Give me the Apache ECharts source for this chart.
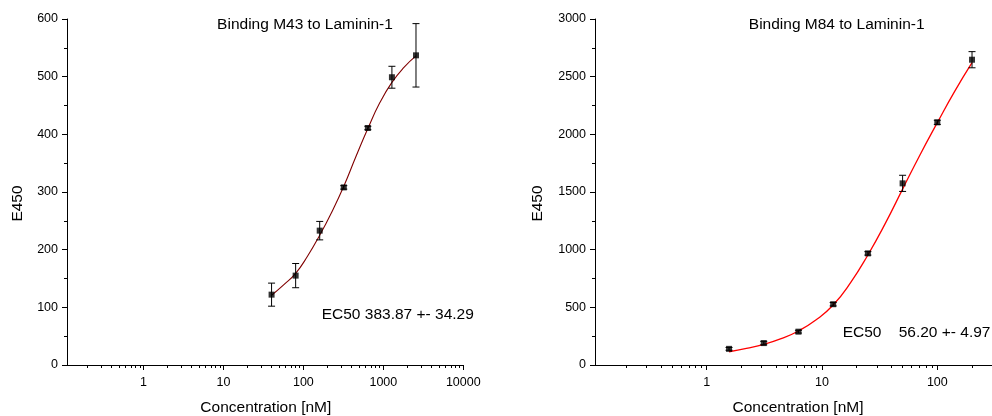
<!DOCTYPE html>
<html><head><meta charset="utf-8">
<script src="https://cdn.jsdelivr.net/npm/echarts@6/dist/echarts.min.js"></script>
<style>html,body{margin:0;padding:0;background:#fff}#c{width:992px;height:416px}</style>
</head><body><div id="c"></div>
<script>
// ---- data: M43 binding to Laminin-1 ----
const m43Conc = [40, 80, 160, 320, 640, 1280, 2560];
const m43Mean = [122, 155, 233, 308, 411, 499, 537];
const m43Err  = [20, 21, 16, 3, 3, 19, 55];
const m43FitConc = [40, 56.6, 80, 113, 160, 226, 320, 453, 640, 905, 1280, 1810, 2560];
const m43FitVal  = [121, 139, 159, 189, 225, 265, 310, 361, 410, 455, 490, 516, 536];

// ---- data: M84 binding to Laminin-1 ----
const m84Conc = [1.5625, 3.125, 6.25, 12.5, 25, 50, 100, 200];
const m84Mean = [140, 190, 289, 527, 968, 1575, 2104, 2647];
const m84Err  = [12, 15, 12, 15, 15, 70, 18, 70];
const m84FitConc = [1.5625, 2.21, 3.125, 4.42, 6.25, 8.84, 12.5, 17.7, 25, 35.4, 50, 70.7, 100, 141, 200];
const m84FitVal  = [115, 145, 179, 228, 295, 390, 520, 714, 954, 1228, 1525, 1821, 2101, 2370, 2621];

// ---- tick labels / texts ----
const leftXLabels = [1, 10, 100, 1000, 10000];
const rightXLabels = [1, 10, 100];
const titles = ['Binding M43 to Laminin-1', 'Binding M84 to Laminin-1'];
const ec50Texts = ['EC50 383.87 +- 34.29', 'EC50    56.20 +- 4.97'];
const yName = 'E450';
const xName = 'Concentration [nM]';

const FONT = '"Liberation Sans", Arial, sans-serif';

function minorTicks(lo, hi) {
  const out = [];
  for (let e = -1; e <= 4; e++) {
    for (let m = 2; m <= 9; m++) {
      const v = m * Math.pow(10, e);
      if (v > lo && v < hi) out.push(+v.toPrecision(6));
    }
  }
  return out;
}

function pairs(xs, ys) { return xs.map((x, i) => [x, ys[i]]); }
function triples(xs, ys, es) { return xs.map((x, i) => [x, ys[i], es[i]]); }

const xMinL = 0.1105, xMaxL = 10000;
const xMinR = 0.1075, xMaxR = 298;

function mainX(grid, min, max, labels) {
  return {
    type: 'log', gridIndex: grid, min: min, max: max, position: 'bottom',
    axisLine: { show: true, onZero: false, lineStyle: { color: '#000', width: 1 } },
    axisTick: { show: true, customValues: labels, length: 5, lineStyle: { color: '#000', width: 1 } },
    axisLabel: {
      customValues: labels, color: '#000', fontSize: 12.5, fontFamily: FONT, margin: 11,
      formatter: v => String(Math.round(v))
    },
    splitLine: { show: false }, minorTick: { show: false }
  };
}
function minorX(grid, min, max) {
  return {
    type: 'log', gridIndex: grid, min: min, max: max, position: 'bottom', offset: 0,
    axisLine: { show: false },
    axisTick: { show: true, customValues: minorTicks(min, max), length: 3, lineStyle: { color: '#000', width: 1 } },
    axisLabel: { show: false },
    splitLine: { show: false }
  };
}
function valY(grid, max, interval) {
  return {
    type: 'value', gridIndex: grid, min: 0, max: max, interval: interval,
    axisLine: { show: true, onZero: false, lineStyle: { color: '#000', width: 1 } },
    axisTick: { show: true, length: 5, lineStyle: { color: '#000', width: 1 } },
    minorTick: { show: true, splitNumber: 2, length: 3, lineStyle: { color: '#000', width: 1 } },
    axisLabel: { color: '#000', fontSize: 12.5, fontFamily: FONT, margin: 9, formatter: v => String(v) },
    splitLine: { show: false }
  };
}

function errRender(params, api) {
  const x = api.value(0), y = api.value(1), e = api.value(2);
  const top = api.coord([x, y + e]);
  const bot = api.coord([x, y - e]);
  const w = 3.5;
  const st = { stroke: '#000', lineWidth: 1 };
  return {
    type: 'group',
    children: [
      { type: 'line', shape: { x1: top[0], y1: top[1], x2: bot[0], y2: bot[1] }, style: st },
      { type: 'line', shape: { x1: top[0] - w, y1: top[1], x2: top[0] + w, y2: top[1] }, style: st },
      { type: 'line', shape: { x1: bot[0] - w, y1: bot[1], x2: bot[0] + w, y2: bot[1] }, style: st }
    ]
  };
}

const chart = echarts.init(document.getElementById('c'), null, { renderer: 'canvas' });
chart.setOption({
  animation: false,
  backgroundColor: '#fff',
  textStyle: { fontFamily: FONT },
  grid: [
    { left: 67, top: 19, width: 396.3, height: 346, containLabel: false },
    { left: 595, top: 19, width: 397, height: 346, containLabel: false }
  ],
  xAxis: [
    mainX(0, xMinL, xMaxL, leftXLabels),
    mainX(1, xMinR, xMaxR, rightXLabels),
    minorX(0, xMinL, xMaxL),
    minorX(1, xMinR, xMaxR)
  ],
  yAxis: [valY(0, 600, 100), valY(1, 3000, 500)],
  series: [
    { type: 'line', xAxisIndex: 0, yAxisIndex: 0, data: pairs(m43FitConc, m43FitVal), smooth: 0.5,
      showSymbol: false, symbol: 'none', lineStyle: { color: '#800000', width: 1.1 }, z: 2 },
    { type: 'line', xAxisIndex: 1, yAxisIndex: 1, data: pairs(m84FitConc, m84FitVal), smooth: 0.5,
      showSymbol: false, symbol: 'none', lineStyle: { color: '#ff0000', width: 1.3 }, z: 2 },
    { type: 'custom', xAxisIndex: 0, yAxisIndex: 0, data: triples(m43Conc, m43Mean, m43Err),
      renderItem: errRender, z: 3 },
    { type: 'custom', xAxisIndex: 1, yAxisIndex: 1, data: triples(m84Conc, m84Mean, m84Err),
      renderItem: errRender, z: 3 },
    { type: 'scatter', xAxisIndex: 0, yAxisIndex: 0, data: pairs(m43Conc, m43Mean),
      symbol: 'rect', symbolSize: 6, itemStyle: { color: '#000' }, z: 4 },
    { type: 'scatter', xAxisIndex: 1, yAxisIndex: 1, data: pairs(m84Conc, m84Mean),
      symbol: 'rect', symbolSize: 6, itemStyle: { color: '#000' }, z: 4 }
  ],
  graphic: [
    { type: 'text', x: 305, y: 25, style: { text: titles[0], font: '15.5px ' + FONT, fill: '#000', align: 'center', verticalAlign: 'middle' } },
    { type: 'text', x: 836.7, y: 25, style: { text: titles[1], font: '15.5px ' + FONT, fill: '#000', align: 'center', verticalAlign: 'middle' } },
    { type: 'text', x: 321.7, y: 315, style: { text: ec50Texts[0], font: '15.5px ' + FONT, fill: '#000', align: 'left', verticalAlign: 'middle' } },
    { type: 'text', x: 842.7, y: 333, style: { text: ec50Texts[1], font: '15.5px ' + FONT, fill: '#000', align: 'left', verticalAlign: 'middle' } },
    { type: 'text', x: 17.5, y: 203.5, rotation: Math.PI / 2, style: { text: yName, font: '15.5px ' + FONT, fill: '#000', align: 'center', verticalAlign: 'middle' } },
    { type: 'text', x: 537.5, y: 203.5, rotation: Math.PI / 2, style: { text: yName, font: '15.5px ' + FONT, fill: '#000', align: 'center', verticalAlign: 'middle' } },
    { type: 'text', x: 265.8, y: 408, style: { text: xName, font: '15.5px ' + FONT, fill: '#000', align: 'center', verticalAlign: 'middle' } },
    { type: 'text', x: 798, y: 408, style: { text: xName, font: '15.5px ' + FONT, fill: '#000', align: 'center', verticalAlign: 'middle' } }
  ]
});
</script></body></html>
